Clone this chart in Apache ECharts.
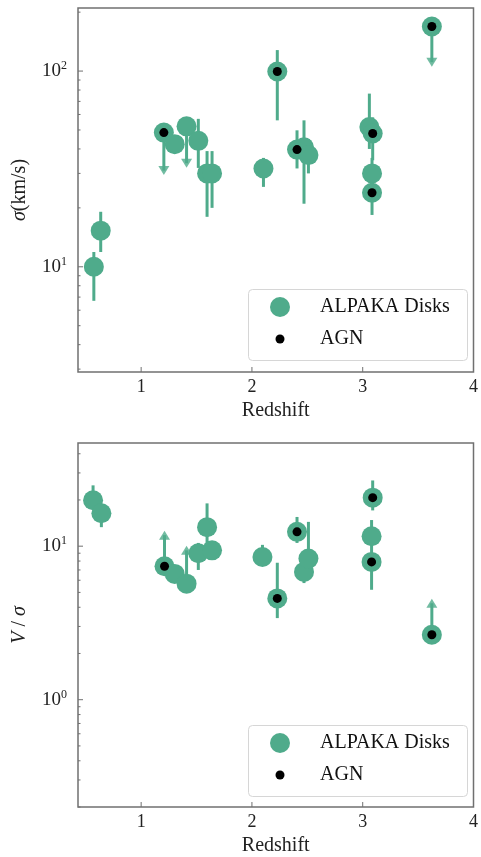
<!DOCTYPE html>
<html><head><meta charset="utf-8">
<script src="https://cdn.jsdelivr.net/npm/echarts@6/dist/echarts.min.js"></script>
<style>html,body{margin:0;padding:0;background:#fff}#c{width:481px;height:857px}</style>
</head><body><div id="c"></div>
<script>
// ---------- data: top panel (velocity dispersion) ----------
const sigZ   = [0.573,0.635,1.205,1.303,1.41,1.516,1.595,1.64,2.104,2.229,2.407,2.47,2.51,3.06,3.09,3.084,3.084,3.624];
const sigVal = [10.0,15.3,48.5,42.3,52.2,44,30,30,31.8,99.5,39.7,40.8,37.2,51.8,48,30,23.9,169];
const sigLo  = [6.7,11.9,null,38,null,32,18,20,25.6,56,31.8,21,30,40,35,24,18.4,null];
const sigHi  = [11.9,19.1,null,47,null,57,39,39,36,128,49.8,56,45,76.7,58,36,28,null];
const sigLimitTip = [null,null,31,null,33.8,null,null,null,null,null,null,null,null,null,null,null,null,111];
const sigAGN = [0,0,1,0,0,0,0,0,0,1,1,0,0,0,1,0,1,1];

// ---------- data: bottom panel (V/sigma) ----------
const vsZ   = [0.566,0.641,1.211,1.303,1.41,1.516,1.595,1.64,2.095,2.229,2.407,2.47,2.51,3.09,3.08,3.08,3.624];
const vsVal = [19.9,16.4,7.4,6.6,5.7,9.0,13.3,9.4,8.5,4.57,12.4,6.8,8.3,20.7,11.6,7.9,2.65];
const vsLo  = [17.5,13.3,null,6.0,null,7.0,10,8.3,7.5,3.4,10.5,5.75,7,17.1,10,5.2,null];
const vsHi  = [24.9,18.5,null,7.2,null,10.5,19,10.5,10.2,7.8,15.5,8,14.4,26.8,14.8,10.2,null];
const vsLimitTip = [null,null,11.8,null,9.4,null,null,null,null,null,null,null,null,null,null,null,4.25];
const vsAGN = [0,0,1,0,0,0,0,0,0,1,1,0,0,1,0,1,1];

// ---------- ticks ----------
const zTickLabels = [1,2,3,4];
const zTicks = [1,2,3];
const sigMajorTicks = [10,100];
const sigMinorTicks = [3,4,5,6,7,8,9,20,30,40,50,60,70,80,90,200];
const vsMajorTicks = [1,10];
const vsMinorTicks = [0.2,0.3,0.4,0.5,0.6,0.7,0.8,0.9,2,3,4,5,6,7,8,9,20,30,40];

const X_MIN = 0.43, X_MAX = 4.0;
const SIG_MIN = 2.9, SIG_MAX = 210;
const VS_MIN = 0.2, VS_MAX = 47;

const GREEN = '#4fab8b';
const AXIS = '#707070';
const FONT = 'Liberation Serif';

function powFmt(v){
  const l = Math.log10(v);
  if (Math.abs(l - Math.round(l)) < 1e-6) return '{b|10}{s|' + Math.round(l) + '}';
  return '';
}

function lineRender(p, api){
  const a = api.coord([api.value(0), api.value(1)]);
  const b = api.coord([api.value(0), api.value(2)]);
  return {type:'line', shape:{x1:a[0],y1:a[1],x2:b[0],y2:b[1]}, style:{stroke:GREEN, lineWidth:3}};
}
function yTickRender(len){
  return function(p, api){
    const c = api.coord([api.value(0), api.value(1)]);
    return {type:'line', shape:{x1:c[0],y1:c[1],x2:c[0]+len,y2:c[1]}, style:{stroke:AXIS, lineWidth:1}};
  };
}
function xTickRender(len){
  return function(p, api){
    const c = api.coord([api.value(0), api.value(1)]);
    return {type:'line', shape:{x1:c[0],y1:c[1],x2:c[0],y2:c[1]-len}, style:{stroke:AXIS, lineWidth:1}};
  };
}

const grids = [], xAxes = [], yAxes = [], series = [], legends = [], graphics = [];

function addPanel(k, top, yMin, yMax, yName, z, val, lo, hi, tip, agn, majT, minT, tipRot, legTop){
  grids.push({left:78, top:top, width:398, height:364, show:true, borderColor:AXIS, borderWidth:1.5, backgroundColor:'transparent'});
  xAxes.push({gridIndex:k, type:'value', min:X_MIN, max:X_MAX,
    axisLine:{show:false}, axisTick:{show:false}, splitLine:{show:false},
    axisLabel:{customValues:zTickLabels, formatter:v => Math.abs(v-Math.round(v))<1e-6 ? String(Math.round(v)) : '',
      fontFamily:FONT, fontSize:18, color:'#222', margin:6},
    name:'Redshift', nameLocation:'middle', nameGap:29,
    nameTextStyle:{fontFamily:FONT, fontSize:20, color:'#222'}});
  yAxes.push({gridIndex:k, type:'log', logBase:10, min:yMin, max:yMax,
    axisLine:{show:false}, axisTick:{show:false}, splitLine:{show:false}, minorTick:{show:false},
    axisLabel:{formatter:powFmt, margin:11, color:'#222',
      rich:{b:{fontFamily:FONT, fontSize:19, color:'#222'}, s:{fontFamily:FONT, fontSize:12, color:'#222', padding:[0,0,10,0]}}},
    name:yName, nameLocation:'middle', nameGap:48,
    nameTextStyle:{fontFamily:FONT, fontSize:20, color:'#222',
      rich:{i:{fontFamily:FONT, fontStyle:'italic', fontSize:20, color:'#222'}, r:{fontFamily:FONT, fontSize:20, color:'#222'}}}});

  const errData = [], limData = [], tipData = [], greenData = [], agnData = [];
  for (let i = 0; i < z.length; i++){
    if (lo[i] != null) errData.push([z[i], lo[i], hi[i]]);
    if (tip[i] != null){ limData.push([z[i], val[i], tip[i]]); tipData.push([z[i], tip[i]]); }
    greenData.push([z[i], val[i]]);
    if (agn[i]) agnData.push([z[i], val[i]]);
  }
  const ax = {xAxisIndex:k, yAxisIndex:k};
  series.push(Object.assign({type:'custom', name:'err'+k, silent:true, renderItem:lineRender, encode:{x:0,y:[1,2]}, data:errData}, ax));
  series.push(Object.assign({type:'custom', name:'lim'+k, silent:true, renderItem:lineRender, encode:{x:0,y:[1,2]}, data:limData}, ax));
  series.push(Object.assign({type:'scatter', name:'tip'+k, silent:true, symbol:'triangle', symbolSize:[11,9], symbolRotate:tipRot,
    itemStyle:{color:GREEN}, data:tipData}, ax));
  series.push(Object.assign({type:'scatter', name:'ALPAKA Disks', symbol:'circle', symbolSize:20, itemStyle:{color:GREEN, opacity:1}, data:greenData}, ax));
  series.push(Object.assign({type:'scatter', name:'AGN', symbol:'circle', symbolSize:9, itemStyle:{color:'#000', opacity:1}, data:agnData}, ax));
  series.push(Object.assign({type:'custom', name:'ymaj'+k, silent:true, z:5, renderItem:yTickRender(5), encode:{x:0,y:1},
    data:majT.map(v => [X_MIN, v])}, ax));
  series.push(Object.assign({type:'custom', name:'ymin'+k, silent:true, z:5, renderItem:yTickRender(2.5), encode:{x:0,y:1},
    data:minT.map(v => [X_MIN, v])}, ax));
  series.push(Object.assign({type:'custom', name:'xmaj'+k, silent:true, z:5, renderItem:xTickRender(5), encode:{x:0,y:1},
    data:zTicks.map(v => [v, yMin])}, ax));

  graphics.push({type:'rect', left:248, top:legTop - 8, z:3,
    shape:{width:219, height:71, r:4}, style:{fill:'rgba(255,255,255,0.85)', stroke:'#d6d6d6', lineWidth:1}});
  legends.push({data:['ALPAKA Disks'], left:270, top:legTop, padding:0, itemWidth:70, itemHeight:20,
    textStyle:{fontFamily:FONT, fontSize:20, color:'#111'}, selectedMode:false, z:4});
  legends.push({data:['AGN'], left:275.5, top:legTop + 32, padding:0, itemWidth:70, itemHeight:9,
    textStyle:{fontFamily:FONT, fontSize:20, color:'#111'}, selectedMode:false, z:4});
}

addPanel(0, 8, SIG_MIN, SIG_MAX, '{i|σ}{r|(km/s)}', sigZ, sigVal, sigLo, sigHi, sigLimitTip, sigAGN, sigMajorTicks, sigMinorTicks, 180, 297);
addPanel(1, 443, VS_MIN, VS_MAX, '{i|V} {r|/} {i|σ}', vsZ, vsVal, vsLo, vsHi, vsLimitTip, vsAGN, vsMajorTicks, vsMinorTicks, 0, 733);

const chart = echarts.init(document.getElementById('c'), null, {renderer:'canvas'});
chart.setOption({
  animation:false,
  backgroundColor:'#fff',
  grid:grids, xAxis:xAxes, yAxis:yAxes, series:series, legend:legends, graphic:graphics
});
</script>
</body></html>
